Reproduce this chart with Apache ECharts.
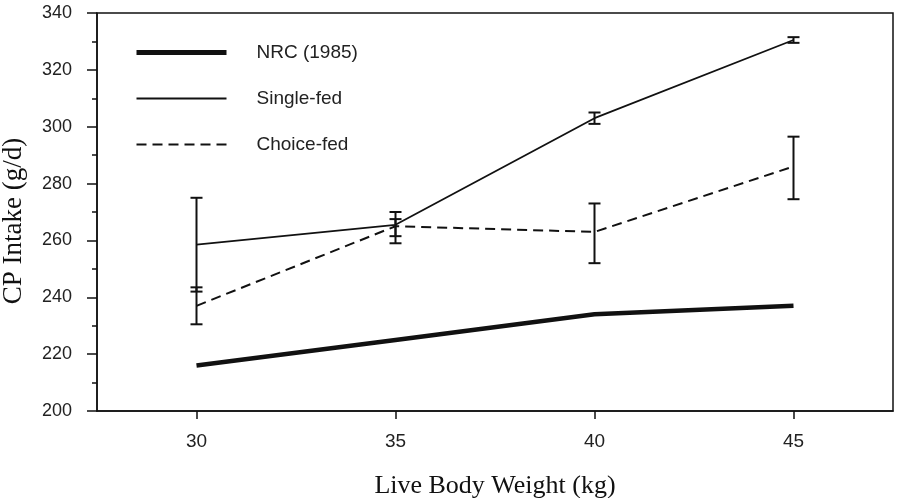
<!DOCTYPE html>
<html>
<head>
<meta charset="utf-8">
<script src="https://cdn.jsdelivr.net/npm/echarts@6/dist/echarts.min.js"></script>
<style>html,body{margin:0;padding:0;background:#fff}#c{width:901px;height:498px}</style>
</head>
<body>
<div id="c"></div>
<script>
const weights = [30, 35, 40, 45];
const xTicks = [30, 35, 40, 45];
const nrc = [216, 225, 234, 237];
const singleFed = [258.5, 265.5, 303, 330.5];
const singleLow = [242, 261.5, 301, 329.5];
const singleHigh = [275, 267.5, 305, 331.5];
const choiceFed = [237, 265, 263, 286];
const choiceLow = [230.5, 259, 252, 274.5];
const choiceHigh = [243.5, 270, 273, 296.5];

const chart = echarts.init(document.getElementById('c'));
const pairs = (ys) => weights.map((x, i) => [x, ys[i]]);
const errData = (lo, hi) => weights.map((x, i) => [x, lo[i], hi[i]]);

function errRender(params, api) {
  const x = api.value(0);
  const p1 = api.coord([x, api.value(1)]);
  const p2 = api.coord([x, api.value(2)]);
  const hw = 6;
  const st = { stroke: '#111', lineWidth: 2 };
  return {
    type: 'group',
    children: [
      { type: 'line', shape: { x1: p1[0], y1: p1[1], x2: p2[0], y2: p2[1] }, style: st },
      { type: 'line', shape: { x1: p1[0] - hw, y1: p1[1], x2: p1[0] + hw, y2: p1[1] }, style: st },
      { type: 'line', shape: { x1: p2[0] - hw, y1: p2[1], x2: p2[0] + hw, y2: p2[1] }, style: st }
    ]
  };
}

const sans = 'Liberation Sans, Arial, sans-serif';
const serif = 'Liberation Serif, Times New Roman, serif';

chart.setOption({
  animation: false,
  backgroundColor: '#fff',
  grid: { left: 97, right: 8, top: 13, bottom: 87, show: true, borderColor: '#111', borderWidth: 1.5, outerBoundsMode: 'none', containLabel: false },
  legend: {
    orient: 'vertical',
    left: 129,
    top: 38,
    itemWidth: 90,
    itemHeight: 14,
    itemGap: 27,
    textStyle: { fontFamily: sans, fontSize: 19, color: '#222', padding: [0, 0, 0, 25] },
    data: [
      { name: 'NRC (1985)', itemStyle: { opacity: 0 }, lineStyle: { width: 5, color: '#111' } },
      { name: 'Single-fed', itemStyle: { opacity: 0 }, lineStyle: { width: 1.8, color: '#111' } },
      { name: 'Choice-fed', itemStyle: { opacity: 0 }, lineStyle: { width: 2, color: '#111', type: [10, 6] } }
    ]
  },
  xAxis: {
    type: 'value',
    min: 27.5,
    max: 47.5,
    name: 'Live Body Weight (kg)',
    nameLocation: 'middle',
    nameGap: 62,
    nameTextStyle: { fontFamily: serif, fontSize: 26, color: '#111' },
    splitLine: { show: false },
    axisLine: { lineStyle: { color: '#111', width: 1.5 } },
    axisTick: { show: true, length: 8, customValues: xTicks, lineStyle: { color: '#111', width: 1.5 } },
    axisLabel: { customValues: xTicks, margin: 21, fontFamily: sans, fontSize: 19, color: '#222' }
  },
  yAxis: {
    type: 'value',
    min: 200,
    max: 340,
    interval: 20,
    name: 'CP Intake (g/d)',
    nameLocation: 'middle',
    nameGap: 70,
    nameTextStyle: { fontFamily: serif, fontSize: 27, color: '#111', padding: [0, 18, 0, 0] },
    splitLine: { show: false },
    axisLine: { lineStyle: { color: '#111', width: 1.5 } },
    axisTick: { show: true, length: 10, lineStyle: { color: '#111', width: 1.5 } },
    minorTick: { show: true, splitNumber: 2, length: 5, lineStyle: { color: '#111', width: 1.5 } },
    axisLabel: { margin: 25, fontFamily: sans, fontSize: 18, color: '#222' }
  },
  series: [
    {
      name: 'NRC (1985)', type: 'line', data: pairs(nrc), showSymbol: false, symbol: 'none',
      lineStyle: { color: '#111', width: 4.5 }, itemStyle: { color: '#111' }
    },
    {
      name: 'Single-fed', type: 'line', data: pairs(singleFed), showSymbol: false, symbol: 'none',
      lineStyle: { color: '#111', width: 1.8 }, itemStyle: { color: '#111' }
    },
    {
      name: 'Choice-fed', type: 'line', data: pairs(choiceFed), showSymbol: false, symbol: 'none',
      lineStyle: { color: '#111', width: 2, type: [10, 6] }, itemStyle: { color: '#111' }
    },
    { type: 'custom', renderItem: errRender, data: errData(singleLow, singleHigh), encode: { x: 0, y: [1, 2] }, z: 3 },
    { type: 'custom', renderItem: errRender, data: errData(choiceLow, choiceHigh), encode: { x: 0, y: [1, 2] }, z: 3 }
  ]
});
</script>
</body>
</html>
